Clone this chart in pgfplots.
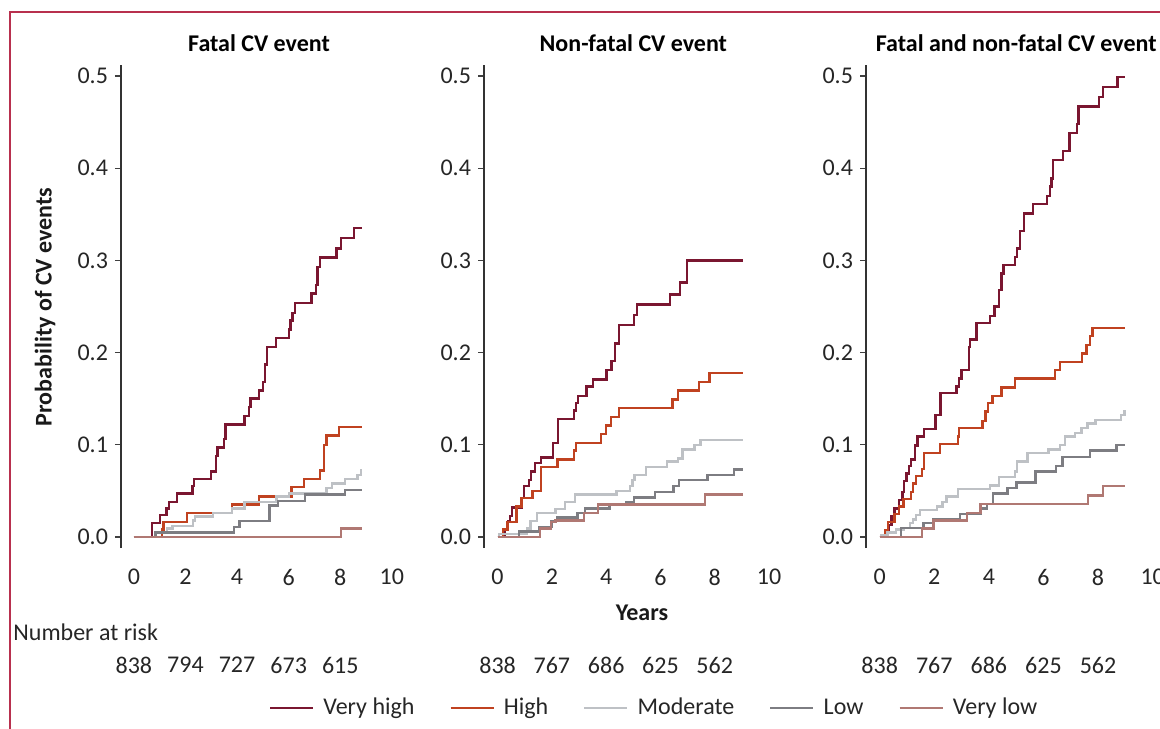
\documentclass[border=0pt]{standalone}
\usepackage{pgfplots}
\pgfplotsset{compat=1.18}
\usepackage{fontspec}
\setmainfont{Carlito}

\definecolor{vhigh}{RGB}{122,22,48}
\definecolor{high}{RGB}{192,66,32}
\definecolor{moder}{RGB}{190,193,197}
\definecolor{low}{RGB}{125,125,130}
\definecolor{vlow}{RGB}{176,120,115}
\definecolor{framecol}{RGB}{184,48,78}

\newcommand{\txt}{\fontsize{12}{14}\selectfont}
\tikzset{risk/.style={font=\txt, text=black!85}}

\pgfplotsset{
  km/.style={
    scale only axis, height=241.5pt,
    ymin=-0.012, ymax=0.512, xmin=-0.5,
    axis lines=left,
    axis line style={-, draw=black!80, line width=0.8pt},
    x axis line style={draw=none},
    xtick={0,2,4,6,8,10}, xticklabels={0,2,4,6,8,10},
    ytick={0,0.1,0.2,0.3,0.4,0.5}, yticklabels={0.0,0.1,0.2,0.3,0.4,0.5},
    tick align=outside, major tick length=3pt,
    ytick style={draw=black!75, line width=0.6pt},
    xtick style={draw=none},
    tick label style={font=\txt, text=black!85},
    xticklabel style={yshift=-4pt},
    /pgf/number format/assume math mode=true,
    every axis title/.style={at={(0.5,1)}, anchor=south, yshift=3pt, font=\txt\bfseries},
    clip=false,
    every axis plot/.append style={const plot, line width=1.2pt},
  },
}

\begin{document}
\begin{tikzpicture}

% panel 1: fatal
\begin{axis}[km, at={(60.5pt,-274pt)}, anchor=south west,
  width=138pt, xmax=10.2, title={Fatal CV event}]
\addplot[vhigh] coordinates {(0,0) (0.71,0.015) (1.01,0.024) (1.27,0.031) (1.36,0.038) (1.68,0.047) (2.27,0.055) (2.33,0.063) (2.98,0.071) (3.18,0.088) (3.24,0.097) (3.50,0.106) (3.55,0.122) (4.28,0.131) (4.46,0.141) (4.52,0.150) (4.84,0.159) (5.01,0.168) (5.08,0.187) (5.17,0.206) (5.50,0.216) (6.01,0.225) (6.07,0.235) (6.15,0.243) (6.24,0.254) (6.89,0.264) (7.05,0.273) (7.12,0.293) (7.21,0.303) (7.86,0.313) (8.02,0.324) (8.53,0.335) (8.85,0.335)};
\addplot[high] coordinates {(0,0) (1.10,0.008) (1.15,0.016) (2.07,0.026) (3.80,0.035) (4.84,0.044) (6.11,0.054) (6.59,0.063) (7.21,0.072) (7.37,0.100) (7.47,0.110) (7.96,0.119) (8.85,0.119)};
\addplot[moder] coordinates {(0,0) (0.81,0.004) (1.29,0.009) (1.49,0.012) (2.30,0.018) (2.38,0.022) (3.07,0.026) (3.80,0.031) (4.28,0.038) (5.53,0.044) (6.01,0.047) (7.47,0.053) (7.69,0.058) (8.18,0.063) (8.67,0.067) (8.80,0.072) (8.85,0.072)};
\addplot[low] coordinates {(0,0) (0.83,0.005) (3.87,0.011) (4.10,0.017) (5.26,0.034) (5.58,0.039) (6.63,0.046) (8.18,0.051) (8.85,0.051)};
\addplot[vlow] coordinates {(0,0) (8.02,0.009) (8.85,0.009)};
\node[risk] at (axis cs:0,-0.139) {838};
\node[risk] at (axis cs:2,-0.139) {794};
\node[risk] at (axis cs:4,-0.139) {727};
\node[risk] at (axis cs:6,-0.139) {673};
\node[risk] at (axis cs:8,-0.139) {615};
\end{axis}

% panel 2: non-fatal
\begin{axis}[km, at={(242pt,-274pt)}, anchor=south west,
  width=149.3pt, xmax=10.5, title={Non-fatal CV event},
  legend columns=5,
  legend style={at={(0.573,-0.331)}, anchor=center, draw=none, fill=none,
    font=\txt, text=black!85,
    /tikz/every odd column/.append style={column sep=2.5pt},
    /tikz/every even column/.append style={column sep=15.5pt}},
  legend image code/.code={\draw[#1, line width=1.2pt] (0pt,0pt) -- (21.5pt,0pt);}]
\addplot[vhigh] coordinates {(0,0) (0.27,0.008) (0.39,0.017) (0.46,0.023) (0.54,0.032) (0.89,0.042) (0.97,0.055) (1.16,0.062) (1.24,0.071) (1.38,0.080) (1.59,0.086) (2.05,0.102) (2.23,0.128) (2.82,0.137) (2.88,0.145) (2.96,0.153) (3.28,0.163) (3.52,0.171) (4.01,0.181) (4.19,0.191) (4.33,0.210) (4.48,0.230) (5.03,0.241) (5.13,0.252) (6.36,0.263) (6.73,0.276) (6.97,0.300) (9.05,0.300)};
\addplot[high] coordinates {(0,0) (0.20,0.008) (0.36,0.016) (0.70,0.033) (0.88,0.042) (1.28,0.050) (1.59,0.076) (2.20,0.084) (2.82,0.094) (2.88,0.102) (3.80,0.112) (3.99,0.121) (4.17,0.130) (4.48,0.140) (6.45,0.149) (6.65,0.159) (7.43,0.168) (7.80,0.178) (9.05,0.178)};
\addplot[moder] coordinates {(0,0) (0.05,0.003) (1.09,0.009) (1.22,0.017) (1.46,0.026) (2.14,0.030) (2.48,0.038) (2.85,0.046) (4.38,0.050) (4.87,0.055) (4.97,0.062) (5.05,0.067) (5.46,0.076) (6.24,0.082) (6.65,0.085) (6.81,0.095) (7.25,0.100) (7.47,0.105) (9.05,0.105)};
\addplot[low] coordinates {(0,0) (0.79,0.006) (1.55,0.011) (1.99,0.017) (2.20,0.021) (2.94,0.026) (3.21,0.031) (4.12,0.035) (4.72,0.038) (5.03,0.043) (5.81,0.049) (6.48,0.055) (6.69,0.062) (7.73,0.067) (8.72,0.073) (9.05,0.073)};
\addplot[vlow] coordinates {(0,0) (1.56,0.009) (1.96,0.016) (2.14,0.018) (3.19,0.026) (3.70,0.035) (7.64,0.046) (9.05,0.046)};
\legend{Very high,High,Moderate,Low,Very low}
\node[risk] at (axis cs:0,-0.139) {838};
\node[risk] at (axis cs:2,-0.139) {767};
\node[risk] at (axis cs:4,-0.139) {686};
\node[risk] at (axis cs:6,-0.139) {625};
\node[risk] at (axis cs:8,-0.139) {562};
\end{axis}

% panel 3: fatal and non-fatal
\begin{axis}[km, at={(433pt,-274pt)}, anchor=south west,
  width=150.15pt, xmax=10.5, title={Fatal and non-fatal CV event}]
\addplot[vhigh] coordinates {(0,0) (0.28,0.006) (0.34,0.013) (0.43,0.022) (0.55,0.031) (0.71,0.040) (0.83,0.049) (0.89,0.061) (0.99,0.069) (1.07,0.077) (1.14,0.084) (1.29,0.099) (1.38,0.109) (1.62,0.117) (2.05,0.132) (2.23,0.156) (2.82,0.163) (2.91,0.172) (3.00,0.181) (3.27,0.206) (3.31,0.214) (3.55,0.232) (4.04,0.240) (4.21,0.250) (4.37,0.268) (4.47,0.286) (4.53,0.295) (4.96,0.304) (5.04,0.313) (5.13,0.332) (5.29,0.351) (5.62,0.361) (6.14,0.370) (6.23,0.380) (6.29,0.389) (6.36,0.409) (6.72,0.419) (6.96,0.438) (7.22,0.448) (7.28,0.467) (8.03,0.477) (8.18,0.488) (8.71,0.499) (8.99,0.499)};
\addplot[high] coordinates {(0,0) (0.22,0.007) (0.30,0.016) (0.55,0.025) (0.71,0.033) (0.87,0.041) (1.14,0.049) (1.22,0.058) (1.32,0.066) (1.56,0.074) (1.62,0.091) (2.21,0.101) (2.87,0.109) (2.91,0.118) (3.76,0.126) (3.88,0.136) (3.97,0.145) (4.13,0.153) (4.46,0.162) (4.95,0.172) (6.42,0.181) (6.61,0.190) (7.42,0.199) (7.58,0.208) (7.70,0.218) (7.79,0.227) (9.00,0.227)};
\addplot[moder] coordinates {(0,0) (0.05,0.002) (0.28,0.005) (0.59,0.008) (0.89,0.010) (1.11,0.015) (1.23,0.019) (1.32,0.024) (1.48,0.029) (2.11,0.033) (2.30,0.038) (2.45,0.044) (2.87,0.052) (4.04,0.056) (4.37,0.065) (4.95,0.071) (5.02,0.082) (5.41,0.091) (6.18,0.095) (6.61,0.100) (6.78,0.109) (7.16,0.113) (7.40,0.118) (7.61,0.123) (7.91,0.127) (8.85,0.132) (8.97,0.136) (9.00,0.136)};
\addplot[low] coordinates {(0,0) (0.79,0.010) (1.60,0.015) (1.97,0.019) (2.94,0.025) (3.70,0.031) (3.94,0.036) (4.16,0.047) (4.68,0.053) (5.01,0.059) (5.71,0.071) (6.45,0.077) (6.69,0.087) (7.70,0.094) (8.68,0.100) (9.00,0.100)};
\addplot[vlow] coordinates {(0,0) (1.55,0.009) (1.97,0.018) (3.21,0.026) (3.70,0.036) (7.63,0.045) (8.19,0.055) (9.00,0.055)};
\node[risk] at (axis cs:0,-0.139) {838};
\node[risk] at (axis cs:2,-0.139) {767};
\node[risk] at (axis cs:4,-0.139) {686};
\node[risk] at (axis cs:6,-0.139) {625};
\node[risk] at (axis cs:8,-0.139) {562};
\end{axis}

\node[rotate=90, inner sep=0pt, font=\txt\bfseries, text=black!90] at (22.5pt,-153.5pt) {Probability of CV events};
\node[font=\txt\bfseries, text=black!90] at (321pt,-306.5pt) {Years};
\node[anchor=west, inner sep=0pt, font=\txt, text=black!85] at (6.5pt,-316pt) {Number at risk};

\draw[framecol, line width=0.8pt] (5pt,-6pt) rectangle (700pt,-500pt);

\pgfresetboundingbox
\path[use as bounding box] (0pt,0pt) rectangle (580pt,-364pt);
\end{tikzpicture}
\end{document}
